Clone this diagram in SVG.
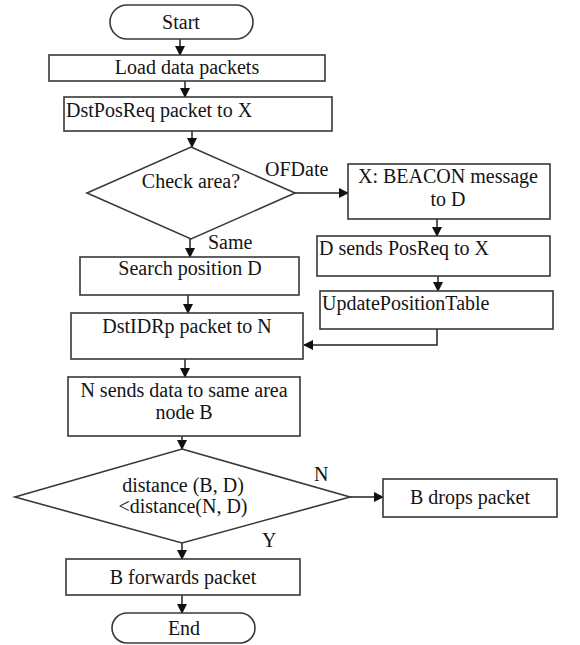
<svg xmlns="http://www.w3.org/2000/svg" width="580" height="645" viewBox="0 0 580 645">
<defs>
<marker id="ah" markerWidth="10" markerHeight="10" refX="9" refY="5" orient="auto" markerUnits="userSpaceOnUse">
<path d="M0,0 L10,5 L0,10 Z" fill="#111"/>
</marker>
<style>
.box{fill:#fff;stroke:#383838;stroke-width:1.6}
.t{font-size:20px;fill:#141414}
.c{text-anchor:middle}
.ln{fill:none;stroke:#222;stroke-width:1.5;marker-end:url(#ah)}
</style>
</defs>
<rect width="580" height="645" fill="#fff"/>
<g id="connectors">
<line class="ln" x1="180" y1="39" x2="180" y2="55"/>
<line class="ln" x1="185" y1="81" x2="185" y2="97"/>
<line class="ln" x1="192" y1="131" x2="192" y2="147"/>
<line class="ln" x1="295" y1="193" x2="348" y2="193"/>
<line class="ln" x1="437" y1="219" x2="437" y2="236"/>
<line class="ln" x1="438" y1="276" x2="438" y2="291"/>
<polyline class="ln" points="437,329 437,345 304,345"/>
<line class="ln" x1="190" y1="239" x2="190" y2="257"/>
<line class="ln" x1="188" y1="295" x2="188" y2="313"/>
<line class="ln" x1="185" y1="359" x2="185" y2="377"/>
<line class="ln" x1="182" y1="436" x2="182" y2="449"/>
<line class="ln" x1="350" y1="497" x2="383" y2="497"/>
<line class="ln" x1="182" y1="543" x2="182" y2="559"/>
<line class="ln" x1="182" y1="595" x2="182" y2="613"/>
</g>
<g font-family="Liberation Serif, Times New Roman, serif">
<g id="start">
<rect class="box" x="110" y="5" width="143" height="34" rx="17"/>
<text class="t c" x="181" y="29">Start</text>
</g>
<g id="load">
<rect class="box" x="49" y="55" width="276" height="26"/>
<text class="t c" x="187" y="74">Load data packets</text>
</g>
<g id="dstposreq">
<rect class="box" x="64" y="97" width="268" height="34"/>
<text class="t" x="66" y="117">DstPosReq packet to X</text>
</g>
<g id="check">
<polygon class="box" points="191,147 295,193 191,239 87,193"/>
<text class="t c" x="191" y="188">Check area?</text>
<text class="t" x="265" y="176">OFDate</text>
<text class="t" x="208" y="249">Same</text>
</g>
<g id="beacon">
<rect class="box" x="348" y="164" width="202" height="55"/>
<text class="t c" x="448" y="183">X: BEACON message</text>
<text class="t c" x="448" y="206">to D</text>
</g>
<g id="dsends">
<rect class="box" x="317" y="236" width="233" height="40"/>
<text class="t" x="319" y="255">D sends PosReq to X</text>
</g>
<g id="update">
<rect class="box" x="320" y="291" width="233" height="38"/>
<text class="t" x="322" y="310">UpdatePositionTable</text>
</g>
<g id="search">
<rect class="box" x="80" y="257" width="219" height="38"/>
<text class="t c" x="190" y="275">Search position D</text>
</g>
<g id="dstidrp">
<rect class="box" x="71" y="313" width="232" height="46"/>
<text class="t c" x="187" y="333">DstIDRp packet to N</text>
</g>
<g id="nsends">
<rect class="box" x="68" y="377" width="232" height="59"/>
<text class="t c" x="184" y="397">N sends data to same area</text>
<text class="t c" x="184" y="419">node B</text>
</g>
<g id="distance">
<polygon class="box" points="182,449 350,497 182,543 15,497"/>
<text class="t c" x="183" y="492">distance (B, D)</text>
<text class="t c" x="183" y="513">&lt;distance(N, D)</text>
<text class="t" x="314" y="481">N</text>
<text class="t" x="262" y="547">Y</text>
</g>
<g id="drops">
<rect class="box" x="383" y="479" width="174" height="38"/>
<text class="t c" x="470" y="504">B drops packet</text>
</g>
<g id="forwards">
<rect class="box" x="66" y="559" width="234" height="36"/>
<text class="t c" x="183" y="584">B forwards packet</text>
</g>
<g id="end">
<rect class="box" x="112" y="613" width="143" height="30" rx="15"/>
<text class="t c" x="184" y="635">End</text>
</g>
</g>
</svg>
